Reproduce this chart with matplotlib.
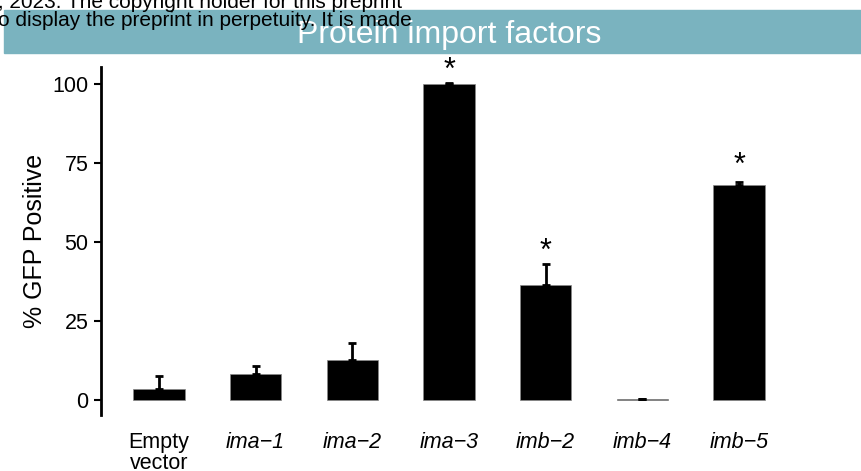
import matplotlib.pyplot as plt
import numpy as np

plt.rcParams['font.family'] = ['Liberation Sans', 'DejaVu Sans']

# data
strains = ['Empty\nvector', 'ima\u22121', 'ima\u22122', 'ima\u22123', 'imb\u22122', 'imb\u22124', 'imb\u22125']
gfp_mean = [3.4, 8.1, 12.6, 100.0, 36.4, 0.2, 68.0]
gfp_sd = [4.2, 2.7, 5.4, 0.2, 6.6, 0.1, 1.1]
star_y = [None, None, None, 105.8, 48.7, None, 75.9]

fig = plt.figure(figsize=(8.61, 4.71), dpi=100)

# title strip
fig.patches.append(plt.Rectangle((4 / 861, 1 - 53 / 471), 1, 43 / 471,
                                 transform=fig.transFigure, color='#7AB3BF', zorder=0))
fig.text(449 / 861, 1 - 35 / 471, 'Protein import factors', color='white',
         fontsize=23, ha='center', va='center')

# clipped preprint watermark
fig.text(-2 / 861, 1 - 8 / 471, ', 2023. The copyright holder for this preprint',
         fontsize=15, ha='left', va='baseline')
fig.text(-2 / 861, 1 - 26 / 471, 'o display the preprint in perpetuity. It is made',
         fontsize=15, ha='left', va='baseline')

ax = fig.add_axes([101 / 861, 1 - 415 / 471, 696 / 861, 348 / 471])
x = np.arange(1, len(strains) + 1)
ax.bar(x, gfp_mean, width=0.53, color='black', edgecolor='#888888', linewidth=0.5)
ax.errorbar(x, gfp_mean, yerr=[np.zeros(len(x)), gfp_sd], fmt='none',
            ecolor='black', elinewidth=2, capsize=3, capthick=2)
for xi, sy in zip(x, star_y):
    if sy is not None:
        ax.annotate('*', (xi, sy), xytext=(0, -14.7), textcoords='offset points',
                    fontsize=22, ha='center', va='bottom', annotation_clip=False)

ax.set_xlim(0.4, 7.6)
ax.set_ylim(-4.75, 105.4)
ax.set_yticks([0, 25, 50, 75, 100])
ax.set_xticks(x)
ax.set_xticklabels(strains, linespacing=1.0)
for i, lab in enumerate(ax.get_xticklabels()):
    if i > 0:
        lab.set_style('italic')
ax.tick_params(axis='x', length=0, labelsize=15.5, pad=12)
ax.tick_params(axis='y', length=5, width=1.5, labelsize=15.5, pad=4)
for side in ['top', 'right', 'bottom']:
    ax.spines[side].set_visible(False)
ax.spines['left'].set_linewidth(2)
ax.set_ylabel('% GFP Positive', fontsize=18, labelpad=4)

fig.savefig('out.png', dpi=100)
